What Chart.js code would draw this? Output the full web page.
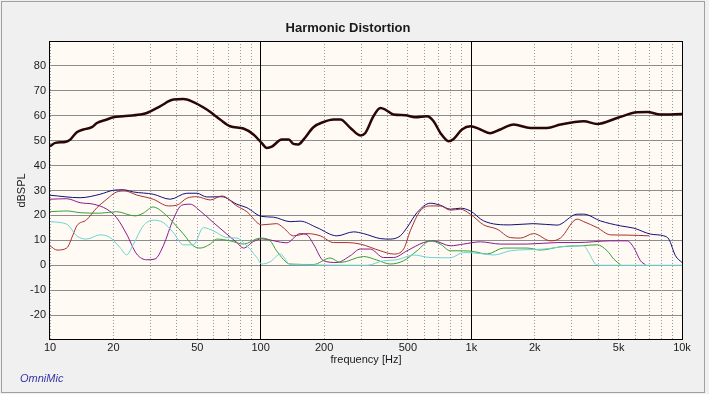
<!DOCTYPE html>
<html>
<head>
<meta charset="utf-8">
<script src="https://cdn.jsdelivr.net/npm/chart.js@4.4.1/dist/chart.umd.min.js"></script>
<style>
  html, body { margin: 0; padding: 0; background: #f0f0f0; }
  canvas { display: block; }
</style>
</head>
<body>
<canvas id="hd" width="709" height="394"></canvas>
<script>
// values (Hz / dBSPL)
const fundamentalHz = [10, 10.6, 11.8, 12.5, 13.4, 14.4, 15.8, 16.7, 18.6, 20, 22.2, 26.8, 28.8, 33.3, 38.5, 43, 47.1, 55.5, 64.2, 71.6, 82.8, 92.4, 101, 107, 113, 126, 136, 143, 151, 160, 178, 199, 222, 239, 266, 297, 314, 343, 370, 390, 427, 486, 542, 616, 662, 713, 780, 824, 903, 990, 1104, 1231, 1373, 1589, 1906, 2289, 2648, 3419, 3956, 4921, 6124, 6834, 7906, 10000];
const fundamentalDb = [47.7, 49.1, 49.5, 50.5, 53.4, 54.5, 55.4, 57.1, 58.5, 59.4, 59.8, 60.5, 61.1, 63.8, 66.5, 66.7, 65.8, 62.5, 58.5, 55.8, 54.9, 52.5, 49.1, 47.1, 47.6, 50.5, 50.5, 48.7, 48.5, 50.5, 55.4, 57.5, 58.5, 58.5, 55.2, 52.1, 53.1, 59.8, 63.1, 62.5, 60.5, 60.2, 59.4, 59.8, 57.8, 53.1, 49.8, 50.7, 54.5, 55.8, 54.5, 53, 54.5, 56.5, 55.1, 55.1, 56.5, 57.8, 56.7, 59.1, 61.4, 61.5, 60.5, 60.7];

const totalHz = [10, 13.9, 17.3, 20, 22.3, 24.9, 30.9, 37.2, 44.6, 49.8, 55.5, 65.4, 77.1, 86, 101, 115, 138, 154, 185, 230, 276, 308, 370, 412, 460, 495, 552, 639, 712, 795, 887, 989, 1144, 1532, 1977, 2554, 3178, 3416, 4101, 5105, 5902, 7087, 8195, 8658, 9314, 10000];
const totalDb = [28.1, 27.1, 28.5, 30.1, 30.3, 29.4, 28.5, 26.5, 28.9, 28.9, 27.4, 27.5, 24.5, 23.1, 19.6, 19.3, 17.5, 17.7, 15.1, 11.8, 13.4, 12.7, 10.7, 10.5, 11.8, 15.1, 21.1, 24.9, 24.1, 22.5, 22.9, 21.8, 17.8, 16.2, 16.7, 16.1, 20.5, 20.5, 17.8, 15.8, 14.9, 12.5, 11.8, 10.5, 3.8, 1.1];

const h2Hz = [10, 10.8, 12, 12.9, 13.4, 14.9, 16.7, 18.6, 20.7, 22.7, 25.8, 30.9, 36.5, 40, 44.6, 49.8, 57.6, 65.4, 77.1, 86, 101, 119, 128, 143, 166, 192, 222, 257, 297, 370, 427, 477, 513, 572, 639, 712, 795, 887, 989, 1144, 1324, 1532, 1709, 1977, 2373, 2648, 3178, 3416, 3956, 4575, 5492, 7000];
const h2Db = [7.8, 6.1, 6.9, 12.5, 15.8, 18.2, 23.1, 26.5, 29.4, 29.8, 28.2, 26.5, 23.8, 24.1, 26.9, 27.5, 26.2, 27.8, 23.8, 21.5, 16.2, 16.7, 15.1, 11.8, 12.7, 11.8, 9.1, 9.1, 8.5, 5.8, 4.5, 6.5, 13.8, 21.8, 23.8, 23.8, 22.1, 22.5, 20.5, 16.2, 14.5, 11.1, 10.9, 12.7, 9.8, 10.9, 18.5, 17.5, 15.1, 12.2, 12.1, 11.8];

const h3Hz = [10, 12, 13.9, 16.1, 18.6, 20.7, 23.1, 25.8, 28.8, 31.5, 34.5, 38.5, 42.2, 46.3, 51.6, 59.7, 69.1, 77.1, 82.9, 92.4, 101, 133, 154, 166, 178, 199, 230, 266, 297, 331, 383, 427, 495, 593, 662, 795, 919, 1104, 1373, 1839, 2554, 3178, 4575, 5492, 5902, 6353, 6709];
const h3Db = [26.5, 26.7, 25.1, 24.5, 22.5, 19.1, 12.5, 4.5, 2.2, 2.5, 7.8, 18.5, 24.1, 24.5, 21.8, 17.1, 12.5, 9.1, 6.9, 9.5, 10.6, 9.0, 12.7, 12.2, 8.5, 1.8, 1.1, 3.8, 6.5, 6.5, 3.1, 3.1, 5.8, 9.1, 9.8, 7.8, 8.5, 9.4, 8.5, 8.5, 9.1, 9.1, 9.8, 9.8, 7.1, 1.8, 0.2];

const h4Hz = [10, 12, 13.9, 17.3, 20.7, 25.3, 27.7, 30.9, 34.5, 38.5, 43, 47.9, 51.6, 57.6, 61.9, 71.6, 82.9, 99.5, 111, 119, 138, 178, 214, 239, 308, 356, 412, 477, 552, 639, 712, 795, 919, 1025, 1188, 1424, 1839, 2127, 2648, 3294, 3956, 4413, 4743, 5105];
const h4Db = [21.5, 21.8, 21.1, 20.9, 21.5, 19.8, 20.9, 23.4, 21.1, 17.1, 12.5, 7.8, 6.9, 8.5, 10.5, 9.8, 8.5, 10.9, 9.8, 5.8, 0.5, 0.3, 2.9, 1.1, 3.5, 2.1, 0.5, 1.8, 5.8, 9.8, 8.5, 5.8, 5.8, 5.5, 4.5, 6.9, 6.9, 6.1, 7.4, 7.8, 8.2, 5.8, 2.5, 0.2];

const h5Hz = [10, 12, 13.4, 14.9, 17.3, 19.3, 21.5, 23.1, 24.9, 27.7, 30.9, 34.5, 38.5, 43, 47.9, 53.5, 59.7, 69.1, 77.1, 86, 95.9, 101, 111, 124, 138, 320, 383, 444, 532, 639, 795, 919, 1104, 1276, 1532, 2206, 3062, 3416, 3608, 3883, 4100, 10000];
const h5Db = [17.5, 16.5, 11.8, 10.5, 12.2, 11.1, 7.1, 4.2, 8.5, 15.8, 18.1, 17.1, 13.1, 8.2, 8.2, 15.1, 13.8, 11.1, 10.9, 7.8, 3.1, 0.5, 1.4, 4.5, 0.3, 0, 1.8, 2.2, 4.1, 3.1, 3.0, 5.1, 4.7, 4.1, 5.8, 6.5, 7.8, 7.8, 5.1, 0.5, 0, 0];

// axes
const gridHz = [10, 20, 30, 40, 50, 60, 70, 80, 90, 100, 200, 300, 400, 500, 600, 700, 800, 900, 1000, 2000, 3000, 4000, 5000, 6000, 7000, 8000, 9000, 10000];
const labelHz = [10, 20, 50, 100, 200, 500, 1000, 2000, 5000, 10000];
const labelText = ["10", "20", "50", "100", "200", "500", "1k", "2k", "5k", "10k"];
const decadeHz = [100, 1000];
const yMin = -30, yMax = 90, yStep = 10;

const FONT = '"Liberation Sans", Arial, sans-serif';

const pts = (hz, db) => hz.map((f, i) => ({ x: f, y: db[i] }));

const line = (hz, db, color, width) => ({
  data: pts(hz, db),
  borderColor: color,
  borderWidth: width,
  pointRadius: 0,
  fill: false,
  cubicInterpolationMode: "monotone",
});

const framePlugin = {
  id: "frame",
  beforeDraw(chart) {
    const { ctx, chartArea: a } = chart;
    ctx.save();
    ctx.fillStyle = "#f0f0f0";
    ctx.fillRect(0, 0, chart.width, chart.height);
    ctx.strokeStyle = "#a0a0a0";
    ctx.lineWidth = 1;
    ctx.strokeRect(1.5, 1.5, 703, 391);
    ctx.fillStyle = "#fffbf4";
    ctx.fillRect(a.left, a.top, a.right - a.left, a.bottom - a.top);
    ctx.restore();
  },
  beforeDatasetsDraw(chart) {
    const { ctx, chartArea: a, scales } = chart;
    const x = scales.x;
    ctx.save();
    ctx.lineWidth = 1;
    gridHz.forEach((v) => {
      const px = Math.round(x.getPixelForValue(v) - 0.5) + 0.5;
      ctx.beginPath();
      if (decadeHz.includes(v)) {
        ctx.setLineDash([]);
        ctx.strokeStyle = "#000000";
      } else {
        ctx.setLineDash([1, 2]);
        ctx.strokeStyle = "#9a9a9a";
      }
      ctx.moveTo(px, a.top);
      ctx.lineTo(px, a.bottom);
      ctx.stroke();
    });
    ctx.restore();
  },
  afterDraw(chart) {
    const { ctx, chartArea: a } = chart;
    ctx.save();
    ctx.strokeStyle = "#000000";
    ctx.lineWidth = 1;
    ctx.strokeRect(Math.round(a.left) - 0.5, Math.round(a.top) + 0.5,
      Math.round(a.right - a.left) + 1, Math.round(a.bottom - a.top) - 1);

    ctx.fillStyle = "#1a1a1a";
    ctx.font = "bold 13px " + FONT;
    ctx.textAlign = "center";
    ctx.textBaseline = "middle";
    ctx.fillText("Harmonic Distortion", 348, 28);

    ctx.fillStyle = "#3535a5";
    ctx.font = "italic 11px " + FONT;
    ctx.textAlign = "left";
    ctx.fillText("OmniMic", 20, 379);
    ctx.restore();
  },
};

new Chart(document.getElementById("hd"), {
  type: "line",
  data: {
    datasets: [
      line(h5Hz, h5Db, "#6ad4d4", 1),
      line(h4Hz, h4Db, "#38a038", 1),
      line(h3Hz, h3Db, "#8a1a8a", 1),
      line(h2Hz, h2Db, "#a83030", 1),
      line(totalHz, totalDb, "#10107a", 1),
      line(fundamentalHz, fundamentalDb, "#2a0606", 2.5),
    ],
  },
  options: {
    responsive: false,
    animation: false,
    devicePixelRatio: 1,
    layout: { padding: { left: 0, right: 27, top: 41, bottom: 0 } },
    plugins: {
      legend: { display: false },
      tooltip: { enabled: false },
      title: { display: false },
    },
    scales: {
      x: {
        type: "logarithmic",
        min: 10,
        max: 10000,
        afterBuildTicks: (scale) => {
          scale.ticks = gridHz.map((v) => ({ value: v }));
        },
        afterFit: (scale) => {
          scale.height = 54;
        },
        grid: { display: false, drawTicks: false },
        border: { display: false },
        ticks: {
          autoSkip: false,
          maxRotation: 0,
          padding: 1,
          color: "#1a1a1a",
          font: { family: FONT, size: 11 },
          callback: (v) => {
            const i = labelHz.indexOf(v);
            return i >= 0 ? labelText[i] : "";
          },
        },
        title: {
          display: true,
          text: "frequency [Hz]",
          color: "#1a1a1a",
          font: { family: FONT, size: 11 },
          padding: { top: 0, bottom: 27 },
        },
      },
      y: {
        min: yMin,
        max: yMax,
        afterFit: (scale) => {
          scale.width = 50;
        },
        grid: {
          drawTicks: false,
          color: (ctx) =>
            ctx.tick && (ctx.tick.value === yMin || ctx.tick.value === yMax)
              ? "rgba(0,0,0,0)"
              : "#8c8c8c",
        },
        border: { display: false },
        ticks: {
          stepSize: yStep,
          padding: 4,
          color: "#1a1a1a",
          font: { family: FONT, size: 11 },
          callback: (v) => (v === yMin || v === yMax ? "" : String(v)),
        },
        title: {
          display: true,
          text: "dBSPL",
          color: "#1a1a1a",
          font: { family: FONT, size: 11 },
          padding: { top: 15, bottom: 0 },
        },
      },
    },
  },
  plugins: [framePlugin],
});
</script>
</body>
</html>
